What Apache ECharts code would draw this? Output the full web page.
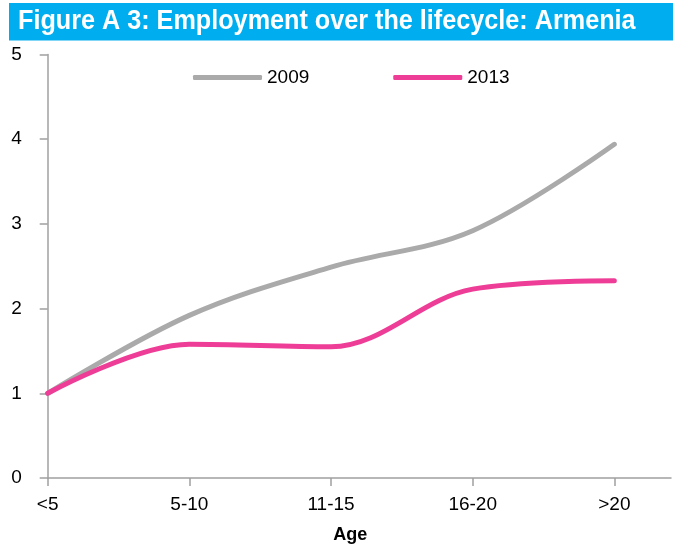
<!DOCTYPE html>
<html>
<head>
<meta charset="utf-8">
<script src="https://cdn.jsdelivr.net/npm/echarts@6/dist/echarts.min.js"></script>
<style>html,body{margin:0;padding:0;background:#fff;}#c{width:677px;height:551px;}</style>
</head>
<body>
<div id="c"></div>
<script>
var categories = ['<5', '5-10', '11-15', '16-20', '>20'];
var seriesNames = ['2009', '2013'];
var values2009 = [1, 1.92, 2.49, 2.92, 3.94];
var values2013 = [1, 1.58, 1.55, 2.23, 2.33];
var yTicks = [0, 1, 2, 3, 4, 5];
var titleText = 'Figure A 3: Employment over the lifecycle: Armenia';
var xName = 'Age';

function pairs(arr) { return arr.map(function (v, i) { return [i, v]; }); }
var catIdx = categories.map(function (c, i) { return i; });

var chart = echarts.init(document.getElementById('c'), null, {renderer: 'canvas'});
var axisGray = '#A0A0A0';
var fam = 'Liberation Sans, Arial, sans-serif';
chart.setOption({
  animation: false,
  backgroundColor: '#fff',
  textStyle: {fontFamily: fam},
  graphic: [
    {type: 'rect', x: 9, y: 3, shape: {width: 664, height: 37.5}, style: {fill: '#00AEEF'}},
    {type: 'text', x: 18, y: 21, scaleX: 0.9, style: {text: titleText, x: 0, y: 0, verticalAlign: 'middle', fill: '#fff', font: 'bold 28px "Liberation Sans", Arial, sans-serif'}}
  ],
  legend: {
    left: 188, top: 63,
    itemWidth: 69, itemHeight: 5, itemGap: 84, itemTextGap: 6,
    icon: 'roundRect',
    textStyle: {fontSize: 19, color: '#000', fontFamily: fam},
    data: seriesNames
  },
  grid: {left: 47.7, top: 54.5, right: 6, bottom: 73, containLabel: false},
  xAxis: {
    type: 'value', min: 0, max: 4.4, interval: 1,
    name: xName, nameLocation: 'middle', nameGap: 48,
    nameTextStyle: {fontSize: 18, fontWeight: 'bold', color: '#000', padding: [0, 18, 0, 0]},
    axisLine: {show: true, lineStyle: {color: axisGray, width: 1.5}},
    axisTick: {show: true, length: 8, customValues: catIdx, lineStyle: {color: axisGray, width: 1.5}},
    axisLabel: {customValues: catIdx, margin: 17, fontSize: 19, color: '#000',
      formatter: function (v) { return categories[Math.round(v)] || ''; }},
    splitLine: {show: false}
  },
  yAxis: {
    type: 'value', min: 0, max: 5, interval: 1,
    axisLine: {show: true, lineStyle: {color: axisGray, width: 1.5}},
    axisTick: {show: true, length: 8, lineStyle: {color: axisGray, width: 1.5}},
    axisLabel: {margin: 26, fontSize: 19, color: '#000',
      formatter: function (v) { return yTicks.indexOf(v) >= 0 ? String(v) : ''; }},
    splitLine: {show: false}
  },
  series: [
    {name: seriesNames[0], type: 'line', data: pairs(values2009), smooth: 0.35, showSymbol: false,
      itemStyle: {color: '#AAAAAA'}, lineStyle: {color: '#AAAAAA', width: 5, cap: 'round'}},
    {name: seriesNames[1], type: 'line', data: pairs(values2013), smooth: 0.35, showSymbol: false,
      itemStyle: {color: '#EE3D96'}, lineStyle: {color: '#EE3D96', width: 5, cap: 'round'}}
  ]
});
</script>
</body>
</html>
